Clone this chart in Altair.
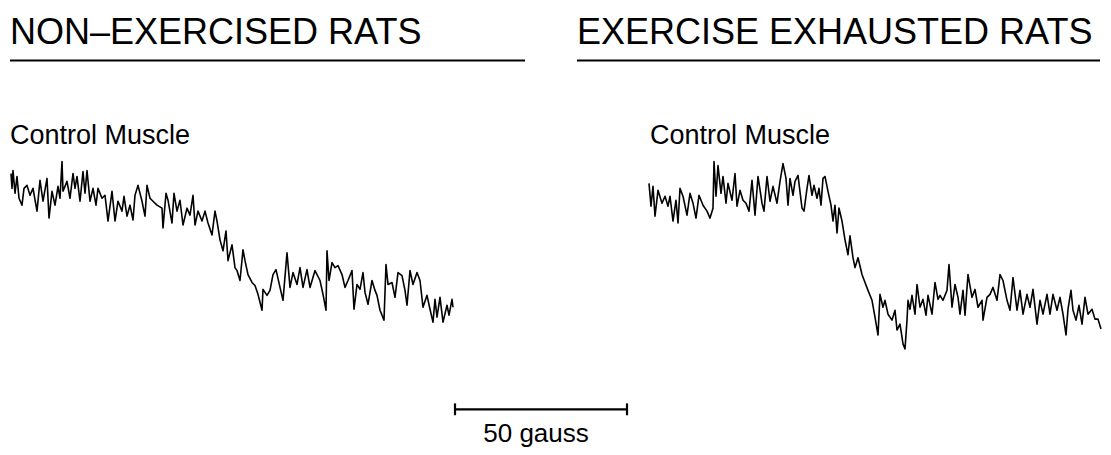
import altair as alt
import pandas as pd

# Left trace (non-exercised rats, control muscle) - page-like coordinates
left_x = [11,12,13,15,17,19,22,24,27,30,33,37,40,43,47,49,52,55,58,60,62,63,67,70,73,75,77,80,83,85,87,90,93,96,98,102,105,108,112,115,118,122,124,127,130,133,135,138,142,145,147,150,153,157,162,163,166,168,172,174,177,180,183,187,190,193,195,198,202,205,208,212,215,217,220,223,226,228,232,235,237,240,243,245,248,252,255,258,262,263,267,270,273,276,280,283,287,290,293,297,300,303,307,310,315,320,323,326,327,329,332,335,338,342,345,348,352,354,357,360,363,365,368,372,375,377,380,384,386,388,392,395,398,402,405,407,410,413,417,420,423,427,430,433,435,437,440,443,447,449,452,453]
left_y = [175,190,172,195,178,200,207,190,187,197,190,213,182,203,180,220,193,207,188,200,163,193,183,200,175,190,178,203,173,195,172,203,190,207,190,200,197,223,193,223,203,213,198,218,207,222,197,187,203,218,187,200,203,207,210,230,195,202,225,195,213,202,227,210,217,197,227,213,223,213,225,237,213,223,242,253,233,263,247,270,273,283,252,263,277,285,288,297,313,292,298,293,277,272,290,303,255,290,275,287,270,290,272,290,273,283,297,313,253,283,265,270,268,277,290,283,273,312,287,292,275,295,307,283,293,298,313,323,267,287,285,300,275,278,293,308,273,287,275,283,310,298,312,325,302,320,300,325,308,318,302,310]

# Right trace (exercise exhausted rats, control muscle)
right_x = [649,651,653,655,658,662,665,668,670,673,676,678,680,683,687,690,693,696,699,703,707,710,713,714,716,718,721,723,726,728,732,735,737,740,743,746,749,752,755,758,762,764,767,770,773,777,780,783,786,788,790,793,795,798,802,804,807,809,812,814,817,819,821,823,825,828,831,833,835,837,839,842,845,848,850,853,855,858,862,865,868,872,875,878,880,883,885,888,892,895,897,900,903,905,907,908,910,912,915,917,920,923,926,928,932,935,938,940,943,947,949,952,955,958,960,963,965,968,972,975,978,982,983,987,990,993,997,1000,1003,1007,1010,1013,1017,1020,1023,1027,1030,1033,1037,1040,1043,1047,1050,1053,1057,1060,1063,1066,1068,1071,1073,1076,1079,1082,1085,1088,1092,1095,1098,1101]
right_y = [185,208,188,218,192,205,198,208,198,223,202,225,190,198,217,195,205,220,197,207,213,220,210,163,198,167,195,178,205,185,202,175,208,192,202,205,213,182,217,178,205,213,178,203,188,205,183,165,180,207,180,197,183,177,210,213,190,177,197,187,200,190,207,180,178,193,207,223,207,235,210,223,242,257,238,260,270,260,277,285,293,303,320,338,297,310,303,317,323,313,333,327,347,352,323,303,312,298,317,287,310,302,318,298,317,285,302,298,303,293,267,310,287,300,317,293,318,277,300,292,310,303,323,300,297,290,303,277,283,303,313,280,313,293,317,297,310,292,327,303,317,297,317,297,313,300,317,338,312,293,313,323,308,327,300,317,312,322,322,332]

# Texts
label_text = ["NON\u2013EXERCISED RATS", "EXERCISE EXHAUSTED RATS", "Control Muscle", "Control Muscle", "50 gauss"]
label_x = [10, 577, 10, 650, 536]
label_y = [44, 44, 145, 145, 446]
label_size = [36, 36, 27, 27, 26]
label_align = ["left", "left", "left", "left", "center"]

# Underlines and scale bar
rule_x = [10, 577, 455, 455, 627]
rule_x2 = [525, 1100, 627, 455, 627]
rule_y = [61, 61, 413, 407, 407]
rule_y2 = [61, 61, 413, 419, 419]
rule_w = [2, 2, 2.2, 2.2, 2.2]

trace = pd.concat([
    pd.DataFrame({"x": left_x, "y": left_y, "trace": "left", "i": range(len(left_x))}),
    pd.DataFrame({"x": right_x, "y": right_y, "trace": "right", "i": range(len(right_x))}),
])
labels = pd.DataFrame({"text": label_text, "x": label_x, "y": label_y, "size": label_size, "align": label_align})
rules = pd.DataFrame({"x": rule_x, "x2": rule_x2, "y": rule_y, "y2": rule_y2, "w": rule_w})

W, H = 1095, 439
xs = alt.Scale(domain=[8, 8 + W], nice=False, zero=False)
ys = alt.Scale(domain=[8 + H, 8], nice=False, zero=False)
noax = None

lines = alt.Chart(trace).mark_line(color="black", strokeWidth=1.6, strokeJoin="round").encode(
    x=alt.X("x:Q", scale=xs, axis=noax),
    y=alt.Y("y:Q", scale=ys, axis=noax),
    detail="trace:N",
    order="i:Q",
)

rule_layer = alt.Chart(rules).mark_rule(color="black").encode(
    x=alt.X("x:Q", scale=xs, axis=noax),
    x2="x2:Q",
    y=alt.Y("y:Q", scale=ys, axis=noax),
    y2="y2:Q",
    strokeWidth=alt.StrokeWidth("w:Q", scale=None, legend=None),
)

def text_layer(align):
    return alt.Chart(labels[labels["align"] == align]).mark_text(
        align=align, baseline="alphabetic", font="Liberation Sans", color="black"
    ).encode(
        x=alt.X("x:Q", scale=xs, axis=noax),
        y=alt.Y("y:Q", scale=ys, axis=noax),
        text="text:N",
        size=alt.Size("size:Q", scale=None, legend=None),
    )

chart = alt.layer(lines, rule_layer, text_layer("left"), text_layer("center")).properties(
    width=W, height=H,
    autosize=alt.AutoSizeParams(type="fit", contains="padding"),
    padding=0,
).configure(background="white").configure_view(strokeWidth=0)

chart.save("out.html", embed_options={"renderer": "svg", "actions": False})
